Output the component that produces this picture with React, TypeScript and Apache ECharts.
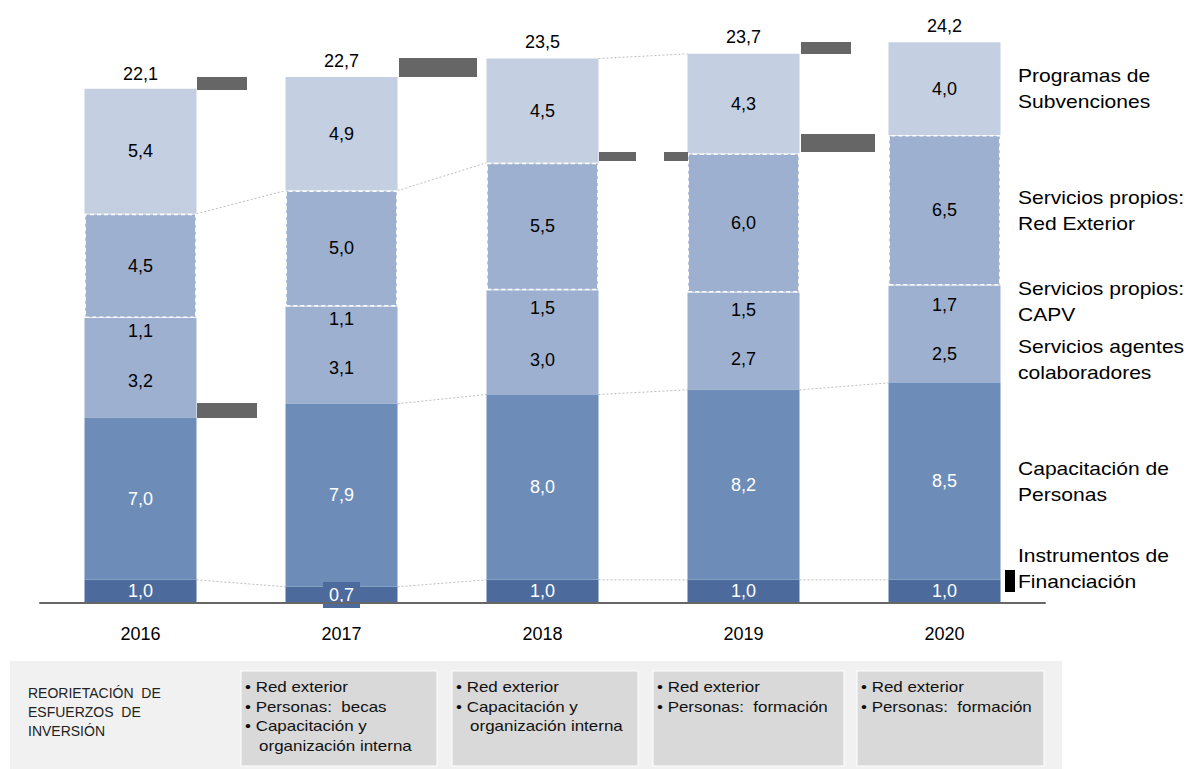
import React, { useEffect, useRef } from "react";
import * as echarts from "echarts";

const years = ["2016", "2017", "2018", "2019", "2020"];
const instrumentos = [1.0, 0.7, 1.0, 1.0, 1.0];
const capacitacion = [7.0, 7.9, 8.0, 8.2, 8.5];
const agentes = [3.2, 3.1, 3.0, 2.7, 2.5];
const capv = [1.1, 1.1, 1.5, 1.5, 1.7];
const redExterior = [4.5, 5.0, 5.5, 6.0, 6.5];
const programas = [5.4, 4.9, 4.5, 4.3, 4.0];
const totals = [22.1, 22.7, 23.5, 23.7, 24.2];

const seriesNames = [
  "Instrumentos de\nFinanciación",
  "Capacitación de\nPersonas",
  "Servicios agentes\ncolaboradores",
  "Servicios propios:\nCAPV",
  "Servicios propios:\nRed Exterior",
  "Programas de\nSubvenciones",
];

const boxTexts = [
  ["• Red exterior", "• Personas:  becas", "• Capacitación y", "   organización interna"],
  ["• Red exterior", "• Capacitación y", "   organización interna"],
  ["• Red exterior", "• Personas:  formación"],
  ["• Red exterior", "• Personas:  formación"],
];

const FONT = "'Liberation Sans', Arial, sans-serif";
const fmt = (v: number) => v.toFixed(1).replace(".", ",");

export default function App() {
  const ref = useRef<HTMLDivElement>(null);
  useEffect(() => {
    if (!ref.current) return;
    const chart = echarts.init(ref.current, undefined, { renderer: "svg" });
    const stacks = [instrumentos, capacitacion, agentes, capv, redExterior, programas];
    const cum: number[][] = [];
    stacks.forEach((arr, k) => {
      cum.push(arr.map((v, i) => (k === 0 ? 0 : cum[k - 1][i]) + v));
    });
    const connectorSpec: [number, number][] = [
      [0, 0], [0, 1], [0, 2], [0, 3],
      [1, 1], [1, 2], [1, 3],
      [4, 0], [4, 1],
      [5, 2],
    ];
    const connectors = connectorSpec.map(([lvl, i]) => [i, cum[lvl][i], i + 1, cum[lvl][i + 1]]);

    const colors = ["#4d6a9c", "#6d8cb7", "#9eb0d0", "#9eb0d0", "#9eb0d0", "#c4cfe2"];
    const barSeries: any[] = stacks.map((arr, k) => ({
      name: seriesNames[k],
      type: "bar",
      stack: "s",
      barWidth: 112,
      barGap: "-100%",
      z: k === 4 ? 4 : 3,
      itemStyle:
        k === 4
          ? { color: colors[k], borderColor: "#ffffff", borderType: [4, 3], borderWidth: 1.5 }
          : k === 2 || k === 3
          ? { color: "rgba(0,0,0,0)" }
          : { color: colors[k] },
      label: {
        show: true,
        position: "inside",
        formatter: (p: any) => fmt(p.value),
        color: k < 2 ? "#ffffff" : "#000000",
        fontSize: 18,
        fontFamily: FONT,
      },
      data: arr.map((v, i) =>
        k === 0 && i === 1
          ? {
              value: v,
              label: { backgroundColor: "#4d6a9c", padding: [5, 6, 3, 6] },
            }
          : v
      ),
    }));
    // background fill for the agentes + CAPV block (drawn as one piece)
    const bgBase = instrumentos.map((v, i) => v + capacitacion[i]);
    const bgBlock = agentes.map((v, i) => v + capv[i]);
    const bgSeries: any[] = [
      { type: "bar", stack: "bg", barWidth: 112, barGap: "-100%", z: 2, silent: true, itemStyle: { color: "rgba(0,0,0,0)" }, data: bgBase },
      { type: "bar", stack: "bg", barWidth: 112, barGap: "-100%", z: 2, silent: true, itemStyle: { color: colors[2] }, data: bgBlock },
    ];

    const graphics: any[] = [];
    const rightLabels = [
      { t: seriesNames[5], y: 88 },
      { t: seriesNames[4], y: 210 },
      { t: seriesNames[3], y: 301 },
      { t: seriesNames[2], y: 359 },
      { t: seriesNames[1], y: 481 },
      { t: seriesNames[0], y: 568 },
    ];
    rightLabels.forEach((r) =>
      graphics.push({
        type: "text",
        x: 1018,
        y: r.y - 25,
        scaleX: 1.17,
        style: { text: r.t, x: 0, y: 0, font: `18px ${FONT}`, fill: "#000", lineHeight: 26 },
      })
    );
    const rects = [
      [197, 77, 50, 13],
      [399, 58, 78, 19],
      [599, 152, 37, 9],
      [664, 152, 24, 9],
      [801, 42, 50, 12],
      [801, 134, 74, 18],
      [197, 403, 60, 15],
    ];
    rects.forEach(([x, y, w, h]) =>
      graphics.push({ type: "rect", shape: { x, y, width: w, height: h }, style: { fill: "#666666" }, z: 10 })
    );
    graphics.push({ type: "rect", shape: { x: 1005, y: 570, width: 10, height: 22 }, style: { fill: "#000" }, z: 10 });
    graphics.push({ type: "rect", shape: { x: 10, y: 661, width: 1052, height: 108 }, style: { fill: "#f1f1f1" }, z: 1 });
    ["REORIETACIÓN  DE", "ESFUERZOS  DE", "INVERSIÓN"].forEach((t, i) =>
      graphics.push({
        type: "text",
        x: 28,
        y: 693 + i * 19,
        style: { text: t, x: 0, y: 0, font: `14px ${FONT}`, fill: "#222", textVerticalAlign: "middle" },
        z: 2,
      })
    );
    const boxes = [
      [241, 196],
      [452, 186],
      [653, 191],
      [857, 187],
    ];
    boxes.forEach(([x, w], b) => {
      graphics.push({
        type: "rect",
        shape: { x, y: 671, width: w, height: 95 },
        style: { fill: "#d9d9d9", stroke: "#ffffff", lineWidth: 1 },
        z: 2,
      });
      boxTexts[b].forEach((t, i) =>
        graphics.push({
          type: "text",
          x: x + 4,
          y: 687 + i * 19.5,
          scaleX: 1.13,
          style: { text: t, x: 0, y: 0, font: `15px ${FONT}`, fill: "#111", textVerticalAlign: "middle" },
          z: 3,
        })
      );
    });

    chart.setOption({
      animation: false,
      grid: { left: 40, right: 145, top: 23.75, bottom: 166, containLabel: false },
      xAxis: {
        type: "category",
        data: years,
        axisLine: { lineStyle: { color: "#666666", width: 2 } },
        axisTick: { show: false },
        axisLabel: { color: "#000", fontSize: 18, fontFamily: FONT, margin: 22 },
        z: 5,
      },
      yAxis: { type: "value", min: 0, max: 25, show: false, splitLine: { show: false } },
      series: [
        ...bgSeries,
        ...barSeries,
        {
          type: "line",
          data: totals,
          symbol: "circle",
          symbolSize: 1,
          itemStyle: { color: "rgba(0,0,0,0)" },
          lineStyle: { opacity: 0 },
          label: {
            show: true,
            position: "top",
            distance: 7,
            formatter: (p: any) => fmt(p.value),
            color: "#000",
            fontSize: 18,
            fontFamily: FONT,
          },
          z: 4,
        },
        {
          type: "custom",
          data: connectors,
          encode: { x: [0, 2], y: [1, 3] },
          z: 2,
          renderItem: (params: any, api: any) => {
            const p0 = api.coord([api.value(0), api.value(1)]);
            const p1 = api.coord([api.value(2), api.value(3)]);
            return {
              type: "line",
              shape: { x1: p0[0] + 56, y1: p0[1], x2: p1[0] - 56, y2: p1[1] },
              style: { stroke: "#bdbdbd", lineWidth: 1, lineDash: [2, 2] },
            };
          },
        },
      ],
      graphic: graphics,
    });
    return () => chart.dispose();
  }, []);
  return (
    <div
      ref={ref}
      style={{ position: "absolute", left: 0, top: 0, width: 1190, height: 769, background: "#fff" }}
    />
  );
}
